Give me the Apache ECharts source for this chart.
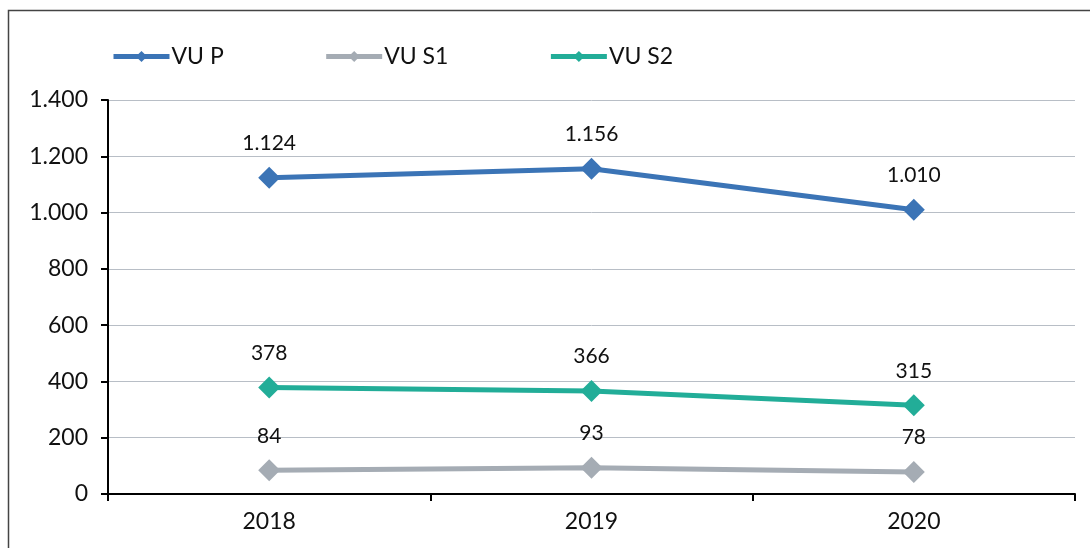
<!DOCTYPE html>
<html><head><meta charset="utf-8">
<script src="https://cdn.jsdelivr.net/npm/echarts@6/dist/echarts.min.js"></script>
<style>html,body{margin:0;padding:0;background:#fff}#c{width:1090px;height:548px}</style>
</head><body><div id="c"></div>
<script>
const categories = ['2018', '2019', '2020'];
const vuP = [1124, 1156, 1010];
const vuS1 = [84, 93, 78];
const vuS2 = [378, 366, 315];
const seriesNames = ['VU P', 'VU S1', 'VU S2'];
const colors = ['#3b74b6', '#a5acb4', '#22ad98'];

function fmt(v){ return String(v).replace(/\B(?=(\d{3})+(?!\d))/g, '.'); }
const FONT = 'Lato, "Noto Sans", sans-serif';

function mk(name, data, color){
  return {
    name, type:'line', data, color,
    symbol:'diamond', symbolSize:22,
    lineStyle:{width:5, color},
    itemStyle:{color},
    label:{show:true, position:'top', distance:13, formatter:p=>fmt(p.value), fontSize:21, color:'#111', fontFamily:FONT},
    emphasis:{disabled:true}
  };
}
const chart = echarts.init(document.getElementById('c'));
chart.setOption({
  animation:false,
  textStyle:{fontFamily:FONT},
  graphic:[{type:'rect', shape:{x:8.5,y:10.5,width:1200,height:600}, style:{fill:'none', stroke:'#444', lineWidth:1.5}, z:-1}],
  legend:{
    top:40, left:106, itemWidth:56, itemHeight:14, itemGap:100,
    lineStyle:{width:5},
    textStyle:{fontSize:23, color:'#111', fontFamily:FONT, padding:[0,0,0,-3]},
    data:seriesNames
  },
  grid:{left:108, right:15, top:100, bottom:54, containLabel:false},
  xAxis:{
    type:'category', data:categories, boundaryGap:true,
    axisLine:{lineStyle:{color:'#000', width:2}},
    axisTick:{show:true, length:7, lineStyle:{color:'#000', width:2}},
    axisLabel:{fontSize:23, color:'#111', margin:16, fontFamily:FONT}
  },
  yAxis:{
    type:'value', min:0, max:1400, interval:200,
    axisLine:{show:true, lineStyle:{color:'#000', width:2}},
    axisTick:{show:true, length:7, lineStyle:{color:'#000', width:2}},
    axisLabel:{fontSize:23, color:'#111', margin:20, formatter:v=>fmt(v), fontFamily:FONT},
    splitLine:{lineStyle:{color:'#b8bec6', width:1}}
  },
  series:[mk(seriesNames[0], vuP, colors[0]), mk(seriesNames[1], vuS1, colors[1]), mk(seriesNames[2], vuS2, colors[2])]
});
</script></body></html>
